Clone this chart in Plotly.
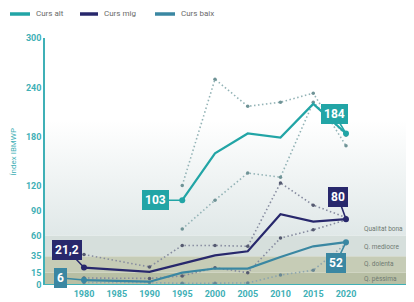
import plotly.graph_objects as go

# ---------------- data ----------------
years_alt = [1995, 2000, 2005, 2010, 2015, 2020]
alt_mean = [103, 160, 184, 179, 220, 184]
alt_upper = [121, 250, 217, 222, 233, 169]
alt_lower = [68, 103, 136, 131, 222, 182]

years_low = [1980, 1990, 1995, 2000, 2005, 2010, 2015, 2020]
mig_mean = [21.2, 16, 26, 36, 41, 86, 77, 80]
mig_upper = [37, 22, 48, 48, 47, 124, 97, 82]
mig_lower = [8.5, 8, 11, 21, 15, 57, 67, 79]

baix_mean = [6, 4, 15, 20, 20, 34, 47, 52]
baix_lower = [3, 3, 2, 2, 2.5, 12, 18, 50]

series_names = ["Curs alt", "Curs mig", "Curs baix"]

y_ticks = [0, 15, 35, 60, 90, 120, 180, 240, 300]
x_ticks = [1980, 1985, 1990, 1995, 2000, 2005, 2010, 2015, 2020]

band_edges = [0, 15, 35, 60]
band_colors = ["#b8bfa4", "#c6ccb6", "#d6dfdc"]
band_labels = ["Q. pèssima", "Q. dolenta", "Q. mediocre", "Qualitat bona"]
band_label_y = [7, 26, 46, 68]

C_ALT = "#22a5a6"
C_MIG = "#28286c"
C_BAIX = "#3a87a2"
C_AX = "#3fb0b6"
series_colors = [C_ALT, C_MIG, C_BAIX]

X0, X1 = 1974.05, 2029.77

fig = go.Figure()

# gradient region above the "bona" threshold
fig.add_trace(go.Scatter(
    x=[X0, X1, X1, X0, X0], y=[60, 60, 200, 200, 60],
    fill="toself", mode="none", hoverinfo="skip", showlegend=False,
    fillgradient=dict(type="vertical", start=60, stop=200,
                      colorscale=[[0, "#e0e8e8"], [1, "#ffffff"]]),
))

for i in range(3):
    fig.add_shape(type="rect", xref="x", yref="y", x0=X0, x1=X1,
                  y0=band_edges[i], y1=band_edges[i + 1],
                  fillcolor=band_colors[i], line_width=0, layer="below")

dot_style = dict(mode="lines+markers", showlegend=False, hoverinfo="skip")
DOT = "1.5px,2.5px"

fig.add_trace(go.Scatter(x=years_alt, y=alt_upper, line=dict(color="#93b3b6", width=1.6, dash=DOT),
                         marker=dict(size=3.5, color="#6f9396"), **dot_style))
fig.add_trace(go.Scatter(x=years_alt, y=alt_lower, line=dict(color="#93b3b6", width=1.6, dash=DOT),
                         marker=dict(size=3.5, color="#6f9396"), **dot_style))
fig.add_trace(go.Scatter(x=years_low, y=mig_upper, line=dict(color="#878ca0", width=1.6, dash=DOT),
                         marker=dict(size=3.5, color="#555a70"), **dot_style))
fig.add_trace(go.Scatter(x=years_low, y=mig_lower, line=dict(color="#878ca0", width=1.6, dash=DOT),
                         marker=dict(size=3.5, color="#555a70"), **dot_style))
fig.add_trace(go.Scatter(x=years_low, y=baix_lower, line=dict(color="#8ca5af", width=1.6, dash=DOT),
                         marker=dict(size=3.5, color="#6a8793"), **dot_style))

fig.add_trace(go.Scatter(x=years_alt, y=alt_mean, name=series_names[0], mode="lines",
                         line=dict(color=C_ALT, width=2.2), showlegend=False))
fig.add_trace(go.Scatter(x=years_low, y=mig_mean, name=series_names[1], mode="lines",
                         line=dict(color=C_MIG, width=2.2), showlegend=False))
fig.add_trace(go.Scatter(x=years_low, y=baix_mean, name=series_names[2], mode="lines",
                         line=dict(color=C_BAIX, width=2.2), showlegend=False))

# end-point markers
fig.add_trace(go.Scatter(x=[years_alt[0], years_alt[-1]], y=[alt_mean[0], alt_mean[-1]], mode="markers",
                         marker=dict(size=6, color=C_ALT), showlegend=False, hoverinfo="skip"))
fig.add_trace(go.Scatter(x=[years_low[0], years_low[-1]], y=[mig_mean[0], mig_mean[-1]], mode="markers",
                         marker=dict(size=6, color=C_MIG), showlegend=False, hoverinfo="skip"))
fig.add_trace(go.Scatter(x=[years_low[0], years_low[-1]], y=[baix_mean[0], baix_mean[-1]], mode="markers",
                         marker=dict(size=6, color=C_BAIX), showlegend=False, hoverinfo="skip"))


def fmt(v):
    return ("%g" % v).replace(".", ",")


labels = [
    (years_alt[0], alt_mean[0], C_ALT, -27, 0),
    (years_alt[-1], alt_mean[-1], C_ALT, -12, -20),
    (years_low[0], mig_mean[0], C_MIG, -17, -18),
    (years_low[-1], mig_mean[-1], C_MIG, -8, -22),
    (years_low[0], baix_mean[0], C_BAIX, -23, -2),
    (years_low[-1], baix_mean[-1], C_BAIX, -10, 21),
]
for x, y, c, ax, ay in labels:
    fig.add_annotation(x=x, y=y, text=fmt(y), showarrow=True, arrowhead=0, arrowwidth=1.5,
                       arrowcolor=c, ax=ax, ay=ay, bgcolor=c, bordercolor=c, borderpad=2,
                       font=dict(family="Roboto", size=12, color="white", weight="bold"))

for t, yv in zip(band_labels, band_label_y):
    fig.add_annotation(x=2022.4, y=yv, text=t, showarrow=False, xanchor="left",
                       font=dict(family="Roboto", size=6.5, color="#6f7a72"))

# y-axis title
fig.add_annotation(xref="paper", yref="paper", x=-0.085, y=0.54, text="Índex IBMWP",
                   textangle=-90, showarrow=False, xanchor="center", yanchor="middle",
                   font=dict(family="Roboto", size=8, color=C_AX))

# compact legend (paper coordinates; plot area spans 365 x 247 px)
PW, PH = 365.0, 247.0
leg_y = 1 + (285 - 38 - 14 - 8 + 8) / PH  # row at ~14px from top of page
leg_y = (285 - 14) / PH
leg_sym = [(10, 30), (80, 98), (155, 175)]
for (s0, s1), name, col in zip(leg_sym, series_names, series_colors):
    fig.add_shape(type="line", xref="paper", yref="paper",
                  x0=(s0 - 45) / PW, x1=(s1 - 45) / PW, y0=leg_y, y1=leg_y,
                  line=dict(color=col, width=3.5))
    fig.add_annotation(xref="paper", yref="paper", x=(s1 + 4 - 45) / PW, y=leg_y,
                       text=name, showarrow=False, xanchor="left", yanchor="middle",
                       font=dict(family="Roboto", size=8, color="#6a6a6a"))

# the page body adds an 8px margin, so the figure is sized/offset to compensate
fig.update_layout(
    width=406, height=294,
    margin=dict(l=37, r=4, t=30, b=17, autoexpand=False),
    paper_bgcolor="white", plot_bgcolor="white",
    showlegend=False,
    xaxis=dict(range=[X0, X1], tickvals=x_ticks, showgrid=False, zeroline=False,
               showline=False, ticks="", automargin=False, ticklabelstandoff=2,
               tickfont=dict(family="Roboto", size=9, color=C_AX, weight="bold")),
    yaxis=dict(range=[0, 300], tickvals=y_ticks, showgrid=False, zeroline=False,
               showline=True, linecolor=C_AX, linewidth=1.5, ticks="", automargin=False,
               tickfont=dict(family="Roboto", size=9, color=C_AX, weight="bold")),
)
fig.add_shape(type="line", xref="paper", yref="y", x0=0, x1=1, y0=0, y1=0,
              line=dict(color=C_AX, width=2), layer="above")

fig.write_html("out.html")
